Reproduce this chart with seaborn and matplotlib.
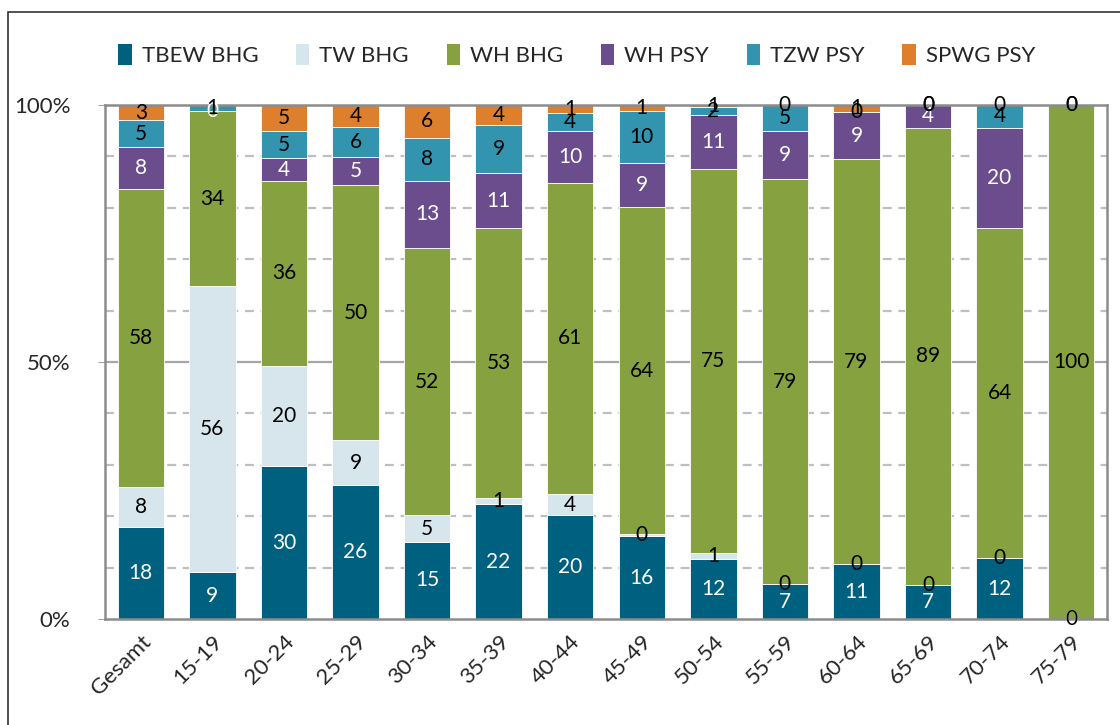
import matplotlib
matplotlib.use("Agg")
import matplotlib.pyplot as plt
from matplotlib.patches import Patch, Rectangle
import seaborn as sns
import pandas as pd

# categories and series (percent shares)
categories = ["Gesamt", "15-19", "20-24", "25-29", "30-34", "35-39", "40-44",
              "45-49", "50-54", "55-59", "60-64", "65-69", "70-74", "75-79"]
tbew_bhg = [17.9, 9.1, 29.7, 26.0, 15.0, 22.3, 20.2, 16.1, 11.6, 6.8, 10.7, 6.6, 11.8, 0.0]
tw_bhg = [7.7, 55.6, 19.6, 8.8, 5.2, 1.2, 4.1, 0.4, 1.3, 0.0, 0.0, 0.0, 0.0, 0.0]
wh_bhg = [58.1, 34.1, 35.9, 49.6, 52.0, 52.6, 60.6, 63.6, 74.6, 78.8, 78.7, 89.0, 64.2, 100.0]
wh_psy = [8.1, 0.0, 4.4, 5.4, 13.0, 10.6, 10.0, 8.6, 10.6, 9.3, 9.3, 4.4, 19.6, 0.0]
tzw_psy = [5.2, 1.2, 5.3, 5.9, 8.4, 9.4, 3.6, 10.1, 1.5, 5.1, 0.0, 0.0, 4.4, 0.0]
spwg_psy = [3.0, 0.0, 5.0, 4.3, 6.4, 3.9, 1.4, 1.2, 0.6, 0.0, 1.3, 0.0, 0.0, 0.0]

series_names = ["TBEW BHG", "TW BHG", "WH BHG", "WH PSY", "TZW PSY", "SPWG PSY"]
series_values = [tbew_bhg, tw_bhg, wh_bhg, wh_psy, tzw_psy, spwg_psy]
colors = ["#00607F", "#D7E6EC", "#86A240", "#6B4D8D", "#3294AE", "#DD7F2C"]
label_colors = ["white", "black", "black", "white", "black", "black"]

df = pd.DataFrame(dict(zip(series_names, series_values)), index=categories)

sns.set_style("white")
plt.rcParams['font.family'] = ['Lato', 'DejaVu Sans']

fig = plt.figure(figsize=(11.2, 7.25), dpi=100)
ax = fig.add_axes([0.09375, 0.1462, 0.8946, 0.709])

# dashed minor grid, solid line at 50%
for y in [10, 20, 30, 40, 60, 70, 80, 90]:
    ax.axhline(y, color="#BFBFBF", lw=1.6, ls=(0, (4, 3)), zorder=0)
ax.axhline(50, color="#A6A6A6", lw=1.6, zorder=0)

# stacked bars
bottom = [0.0] * len(categories)
for name, color, lcol in zip(series_names, colors, label_colors):
    vals = df[name].tolist()
    sns.barplot(x=categories, y=vals, bottom=bottom, color=color, saturation=1,
                width=0.65, ax=ax, edgecolor="white", linewidth=0.6, zorder=2)
    cont = ax.containers[-1]
    ax.bar_label(cont, labels=[f"{v:.0f}" for v in vals], label_type="center",
                 color=lcol, fontsize=15, zorder=3)
    bottom = [b + v for b, v in zip(bottom, vals)]

ax.set_xlim(-0.5, len(categories) - 0.5)
ax.set_ylim(0, 100)
ax.set_yticks([0, 50, 100])
ax.set_yticklabels(["0%", "50%", "100%"])
ax.tick_params(axis="y", labelsize=16, length=5, color="#A6A6A6", pad=20, left=True)
ax.tick_params(axis="x", labelsize=16, length=0, pad=9)
plt.setp(ax.get_xticklabels(), rotation=45, ha="right", rotation_mode="anchor")

for sp in ax.spines.values():
    sp.set_visible(True)
    sp.set_color("#8C8C8C")
    sp.set_linewidth(1.8)

handles = [Patch(facecolor=c, edgecolor="none") for c in colors]
fig.legend(handles, series_names, loc="center", bbox_to_anchor=(0.515, 0.924),
           ncol=6, frameon=False, fontsize=16, handlelength=0.6, handleheight=1.1,
           handletextpad=0.45, columnspacing=1.7)

# outer frame of the chart
fig.add_artist(Rectangle((0.007, -0.1), 1.2, 1.083, transform=fig.transFigure,
                         fill=False, lw=1.2, edgecolor="#333333"))

fig.savefig("out.png", dpi=100)
